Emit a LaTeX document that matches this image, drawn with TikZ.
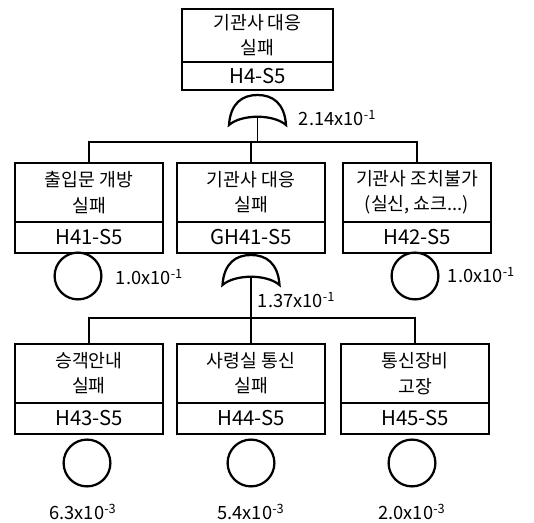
\documentclass[tikz,border=0pt]{standalone}
\usepackage{fontspec}
\setmainfont{Noto Sans CJK KR}
\usetikzlibrary{positioning}

\begin{document}
\begin{tikzpicture}[x=0.025cm, y=-0.025cm, line width=1.4pt,
        ttl/.style={draw, line width=1.5pt, align=center, outer sep=0pt, inner sep=1pt,
                    minimum width=3.7cm, minimum height=1.475cm,
                    font=\fontsize{13}{18}\selectfont},
        code/.style={draw, line width=1.5pt, outer sep=0pt, inner sep=1pt,
                     minimum width=3.7cm, minimum height=0.775cm,
                     font=\fontsize{14.5}{16}\selectfont},
        evt/.style={draw, circle, line width=1.6pt, minimum size=1.17cm, inner sep=0pt},
        prob/.style={font=\fontsize{13}{14}\selectfont, inner sep=0pt},
        orgate/.pic={
          \draw[line width=1.6pt, fill=white] (-28.5,30) .. controls (-27,8) and (-15,0) .. (0,0)
            .. controls (15,0) and (27,8) .. (28.5,30)
            .. controls (16,19) and (-16,19) .. cycle;
          \coordinate (-out) at (0,22);
        }
      ]
      \useasboundingbox (0,0) rectangle (534,523);
      % top event
      \node[ttl, minimum width=3.78cm, minimum height=1.33cm] (h4) at (257.5,35.5) {기관사 대응\\ 실패};
      \node[code, minimum width=3.78cm, minimum height=0.7cm, below=0pt of h4] (h4c) {H4-S5};
      \pic (g1) at (257.5,95) {orgate};
      \node[prob, anchor=west] (p1) at (298,118) {2.14x10\textsuperscript{-1}};
      \coordinate (j1) at (257.5,142);

      % second level
      \node[ttl] (h41) at (89,192.5) {출입문 개방\\ 실패};
      \node[code, below=0pt of h41] (h41c) {H41-S5};
      \node[ttl] (gh41) at (251,192.5) {기관사 대응\\ 실패};
      \node[code, below=0pt of gh41] (gh41c) {GH41-S5};
      \node[ttl] (h42) at (417,192.5) {기관사 조치불가\\ (실신, 쇼크...)};
      \node[code, below=0pt of h42] (h42c) {H42-S5};
      \node[evt] (e41) at (78,276) {};
      \node[evt] (e42) at (415,276) {};
      \node[prob, anchor=west] (p41) at (115,277) {1.0x10\textsuperscript{-1}};
      \node[prob, anchor=west] (p42) at (447,275) {1.0x10\textsuperscript{-1}};
      \pic (g2) at (251,255) {orgate};
      \node[prob, anchor=west] (p2) at (257,300) {1.37x10\textsuperscript{-1}};
      \coordinate (j2) at (251,318);

      % third level
      \node[ttl] (h43) at (89,373.5) {승객안내\\ 실패};
      \node[code, below=0pt of h43] (h43c) {H43-S5};
      \node[ttl] (h44) at (251,373.5) {사령실 통신\\ 실패};
      \node[code, below=0pt of h44] (h44c) {H44-S5};
      \node[ttl] (h45) at (415,373.5) {통신장비\\ 고장};
      \node[code, below=0pt of h45] (h45c) {H45-S5};
      \node[evt] (e43) at (87,463) {};
      \node[evt] (e44) at (251,463) {};
      \node[evt] (e45) at (412,463) {};
      \node[prob] (p43) at (83,512) {6.3x10\textsuperscript{-3}};
      \node[prob] (p44) at (251,512) {5.4x10\textsuperscript{-3}};
      \node[prob] (p45) at (412,512) {2.0x10\textsuperscript{-3}};

      % connectors
      \draw (g1-out) -- (j1);
      \draw (h41.north) |- (j1) -| (h42.north);
      \draw (gh41.north) -- (gh41.north |- j1);
      \draw (g2-out) -- (j2);
      \draw (h43.north) |- (j2) -| (h45.north);
      \draw (h44.north) -- (h44.north |- j2);
    \end{tikzpicture}
\end{document}
